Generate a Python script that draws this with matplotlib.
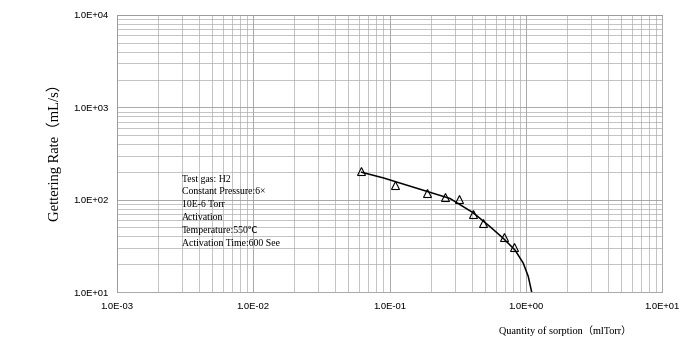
import matplotlib
matplotlib.use("Agg")
import matplotlib.pyplot as plt
from matplotlib.ticker import LogLocator, FixedLocator, NullFormatter

# Data
meas_x = [0.0618, 0.110, 0.188, 0.257, 0.322, 0.412, 0.483, 0.692, 0.824]
meas_y = [206, 144, 117, 106, 101, 70, 55.5, 39, 30.5]

curve_x = [0.0625, 0.0902, 0.1585, 0.278, 0.412, 0.547, 0.684, 0.834, 0.959, 1.044, 1.105]
curve_y = [198, 172, 133, 103, 72, 51, 38.1, 28.5, 20.5, 14.7, 10.0]

x_ticks = [1e-3, 1e-2, 1e-1, 1e0, 1e1]
x_tick_labels = ["1.0E-03", "1.0E-02", "1.0E-01", "1.0E+00", "1.0E+01"]
y_ticks = [1e1, 1e2, 1e3, 1e4]
y_tick_labels = ["1.0E+01", "1.0E+02", "1.0E+03", "1.0E+04"]

info_lines = ["Test gas: H2", "Constant Pressure:6\u00d7", "10E-6 Torr", "Activation",
              "Temperature:550\u2103", "Activation Time:600 See"]

fig = plt.figure(figsize=(6.85, 3.58), dpi=100)
W, H = 685, 358
ax = fig.add_axes([117 / W, 1 - 292 / H, (662 - 117) / W, (292 - 15) / H])
ax.set_xscale("log")
ax.set_yscale("log")
ax.set_xlim(1e-3, 1e1)
ax.set_ylim(1e1, 1e4)

ax.xaxis.set_major_locator(FixedLocator(x_ticks))
ax.yaxis.set_major_locator(FixedLocator(y_ticks))
ax.set_xticklabels(x_tick_labels, fontfamily="Liberation Sans", fontsize=6.8)
ax.set_yticklabels(y_tick_labels, fontfamily="Liberation Sans", fontsize=6.8)
ax.xaxis.set_minor_locator(LogLocator(base=10, subs=range(2, 10)))
ax.yaxis.set_minor_locator(LogLocator(base=10, subs=range(2, 10)))
ax.xaxis.set_minor_formatter(NullFormatter())
ax.yaxis.set_minor_formatter(NullFormatter())
ax.tick_params(which="both", length=0)
ax.tick_params(axis="x", pad=7)
ax.tick_params(axis="y", pad=6)

ax.grid(True, which="major", color="#9a9a9a", lw=0.6)
ax.grid(True, which="minor", color="#ababab", lw=0.5)
for s in ax.spines.values():
    s.set_color("#9a9a9a")
    s.set_linewidth(0.6)

ax.plot(curve_x, curve_y, color="black", lw=1.1, zorder=3)
ax.plot(meas_x, meas_y, linestyle="none", marker="^", markersize=5.5,
        markerfacecolor="none", markeredgecolor="black", markeredgewidth=0.8, zorder=4)

y0 = 179
for i, line in enumerate(info_lines):
    fig.text(182 / W, 1 - (y0 + i * 12.8) / H, line, fontsize=7,
             family=["Liberation Serif", "Noto Sans CJK SC"], va="center", ha="left")

fig.text(54 / W, 1 - 149 / H, "Gettering Rate\uff08mL/s\uff09", rotation=90,
         fontsize=10.5, family=["Liberation Serif", "Noto Sans CJK SC"],
         va="center", ha="center")
fig.text(565 / W, 1 - 331 / H, "Quantity of sorption\uff08mlTorr\uff09", fontsize=7.4,
         family=["Liberation Serif", "Noto Sans CJK SC"], va="center", ha="center")

fig.savefig("out.png", dpi=100)
